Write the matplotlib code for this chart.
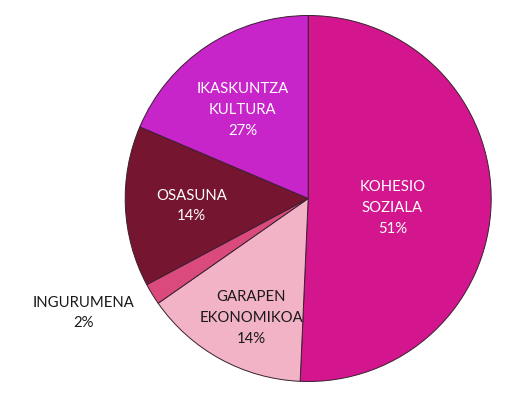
import matplotlib
matplotlib.use("Agg")
import matplotlib.pyplot as plt

# Data (slice sizes; labels as printed)
categories = ["KOHESIO\nSOZIALA", "GARAPEN\nEKONOMIKOA", "INGURUMENA", "OSASUNA", "IKASKUNTZA\nKULTURA"]
shares = [50.7, 14.6, 1.9, 14.2, 18.6]
pct_labels = ["51%", "14%", "2%", "14%", "27%"]

colors = ["#D3168D", "#F2B3C7", "#DA4A7C", "#76152F", "#C724C9"]
text_colors = ["white", "#1a1a1a", "#1a1a1a", "white", "white"]
# label centres in pixel coordinates (x, y from top)
label_pos = [(392.5, 208), (251, 318), (84, 313), (191.5, 206), (242.5, 110)]

W, H = 521, 402
fig = plt.figure(figsize=(W / 100, H / 100), dpi=100)
ax = fig.add_axes([0, 0, 1, 1])
ax.set_xlim(0, W)
ax.set_ylim(0, H)
ax.set_aspect("equal")
ax.axis("off")

ax.pie(shares, colors=colors, startangle=90, counterclock=False,
       center=(308.2, H - 199.5), radius=183,
       wedgeprops=dict(edgecolor="#3a2030", linewidth=0.7))
ax.set_xlim(0, W)
ax.set_ylim(0, H)

for cat, pct, (x, y), tc in zip(categories, pct_labels, label_pos, text_colors):
    ax.text(x, H - y, cat + "\n" + pct, ha="center", va="center", color=tc,
            fontsize=10.7, family=["Lato", "DejaVu Sans"], linespacing=1.62)

fig.savefig("out.png", dpi=100)
